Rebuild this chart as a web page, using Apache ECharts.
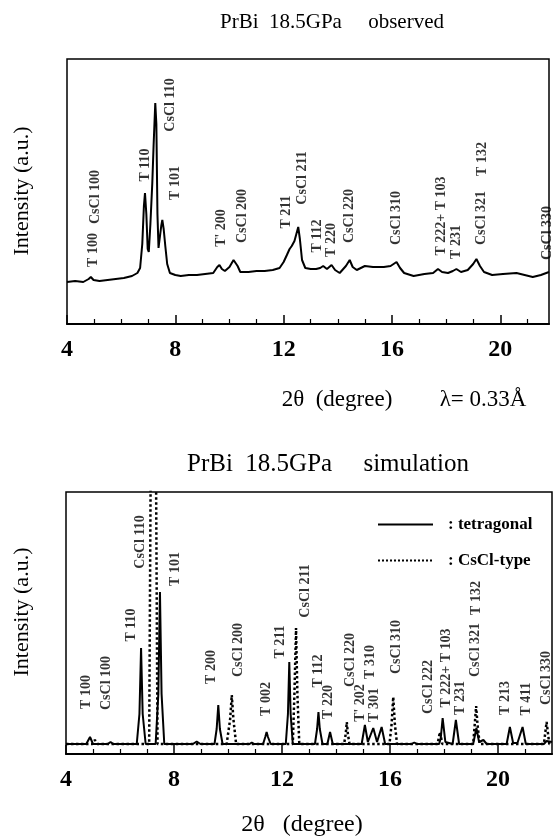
<!DOCTYPE html>
<html>
<head>
<meta charset="utf-8">
<script src="https://cdn.jsdelivr.net/npm/echarts@6/dist/echarts.min.js"></script>
<style>
html, body { margin: 0; padding: 0; background: #fff; }
#chart { width: 554px; height: 840px; }
</style>
</head>
<body>
<div id="chart"></div>
<script>
var dom = document.getElementById("chart");
var myChart = echarts.init(dom);

// tick values of the 2theta axes
var majorTicks = [4, 8, 12, 16, 20];
var minorTicks = [5, 6, 7, 9, 10, 11, 13, 14, 15, 17, 18, 19, 21];

// observed pattern  [2theta, intensity]
var observed = [
  [4.0,42],[4.3,43],[4.6,42],[4.8,45],[4.88,47],[4.98,44],[5.2,43],[5.5,44],[5.8,45],[6.1,46],
  [6.4,48],[6.6,51],[6.7,56],[6.78,80],[6.84,118],[6.88,131],[6.93,110],[6.98,75],[7.02,72],
  [7.08,100],[7.15,141],[7.2,180],[7.26,221],[7.3,200],[7.34,110],[7.38,76],[7.42,75],[7.48,98],
  [7.52,104],[7.57,95],[7.63,78],[7.7,60],[7.8,51],[8.0,49],[8.2,48],[8.5,49],[8.8,49],[9.1,50],
  [9.4,51],[9.55,57],[9.63,59],[9.72,55],[9.83,53],[10.0,57],[10.15,64],[10.22,66],[10.3,58],
  [10.4,52],[10.7,52],[11.0,53],[11.3,53],[11.6,54],[11.85,56],[12.0,62],[12.12,69],[12.22,75],
  [12.3,78],[12.4,83],[12.47,90],[12.54,97],[12.6,85],[12.68,64],[12.8,56],[13.0,55],[13.2,55],
  [13.35,56],[13.46,58],[13.6,55],[13.77,59],[13.9,54],[14.07,51],[14.3,58],[14.44,64],[14.55,57],
  [14.7,54],[15.0,58],[15.3,57],[15.7,57],[15.95,58],[16.17,62],[16.3,56],[16.45,51],[16.8,48],
  [17.2,50],[17.52,51],[17.7,55],[17.85,52],[18.07,51],[18.25,53],[18.38,55],[18.55,52],[18.8,54],
  [19.0,60],[19.12,65],[19.25,58],[19.4,52],[19.7,49],[20.1,50],[20.6,51],[20.9,49],[21.2,47],
  [21.5,49],[21.7,51],[21.8,52]
];

// simulated tetragonal pattern
var tetragonal = [
  [4,10],[4.75,10],[4.89,17],[5.0,10],[5.55,10],[5.65,12],[5.75,10],
  [6.62,10],[6.72,40],[6.78,106],[6.84,40],[6.95,10],
  [7.32,10],[7.42,60],[7.48,162],[7.54,60],[7.64,10],
  [8.7,10],[8.84,12.5],[8.98,10],
  [9.5,10],[9.58,25],[9.64,49],[9.7,25],[9.8,10],
  [10.8,10],[10.88,11.5],[10.96,10],
  [11.3,10],[11.38,17],[11.43,22],[11.48,17],[11.58,10],
  [12.14,10],[12.22,40],[12.27,92],[12.32,40],[12.4,10],
  [13.22,10],[13.3,25],[13.35,42],[13.4,25],[13.5,10],
  [13.68,10],[13.78,22],[13.88,10],
  [14.95,10],[15.07,29],[15.18,12],[15.38,26],[15.52,12],[15.69,27],[15.82,10],
  [16.8,10],[16.9,11.5],[17.0,10],
  [17.82,10],[17.88,16],[17.95,36],[18.05,12],[18.32,10],[18.44,34],[18.56,10],
  [19.08,10],[19.2,26],[19.3,12],[19.46,14],[19.58,10],
  [20.32,10],[20.44,27],[20.56,11],[20.63,13],[20.72,11],[20.91,27],[21.03,10],
  [21.7,10],[21.8,13],[22,12]
];

// simulated CsCl-type pattern
var cscl = [
  [4,10],[4.98,10],[5.07,14],[5.16,10],
  [7.08,10],[7.16,400],[7.31,400],[7.39,10],
  [9.95,10],[10.08,35],[10.14,59],[10.2,35],[10.3,10],
  [12.4,10],[12.46,60],[12.52,126],[12.57,60],[12.64,10],
  [14.3,10],[14.36,20],[14.4,32],[14.44,20],[14.5,10],
  [15.98,10],[16.06,30],[16.12,57],[16.18,30],[16.26,10],
  [17.76,10],[17.85,22],[17.94,10],
  [19.08,10],[19.14,30],[19.19,48],[19.24,30],[19.32,10],
  [21.7,10],[21.8,32],[21.9,10],[22,10]
];

// peak labels  [2theta, intensity, text]
var obsLabels = [
  [4.96,74,"T 100"],[5.03,127,"CsCl 100"],[6.88,159,"T 110"],[7.80,219,"CsCl 110"],
  [7.99,141,"T 101"],[9.72,96,"T' 200"],[10.46,108,"CsCl 200"],[12.12,112,"T 211"],
  [12.71,146,"CsCl 211"],[13.26,88,"T 112"],[13.78,84,"T 220"],[14.44,108,"CsCl 220"],
  [16.18,106,"CsCl 310"],[17.84,108,"T 222+ T 103"],[18.39,82,"T 231"],[19.31,106,"CsCl 321"],
  [19.35,165,"T 132"],[21.75,91,"CsCl 330"]
];
var simLabels = [
  [4.76,62,"T 100"],[5.5,71,"CsCl 100"],[6.43,129,"T 110"],[6.74,212,"CsCl 110"],
  [8.04,185,"T 101"],[9.4,87,"T 200"],[10.38,104,"CsCl 200"],[11.43,55,"T 002"],
  [11.93,112,"T 211"],[12.85,163,"CsCl 211"],[13.35,83,"T 112"],[13.72,52,"T 220"],
  [14.52,94,"CsCl 220"],[14.89,51,"T' 202"],[15.26,92,"T 310"],[15.44,49,"T 301"],
  [16.25,107,"CsCl 310"],[17.42,67,"CsCl 222"],[18.1,86,"T 222+ T 103"],[18.59,56,"T 231"],
  [19.15,104,"CsCl 321"],[19.21,156,"T 132"],[20.26,56,"T 213"],[21.06,55,"T 411"],
  [21.8,76,"CsCl 330"]
];

var serif = "'Liberation Serif', 'DejaVu Serif', serif";

function mainX(grid, max) {
  return {
    type: 'value', gridIndex: grid, min: 4, max: max, position: 'bottom',
    axisLine: { show: true, lineStyle: { color: '#000', width: 2 } },
    axisTick: { show: true, inside: true, length: 9, customValues: majorTicks,
      lineStyle: { color: '#000', width: 1.5 } },
    axisLabel: { show: true, customValues: majorTicks, margin: 14,
      color: '#000', fontFamily: serif, fontWeight: 'bold', fontSize: 24 },
    splitLine: { show: false }
  };
}
function minorX(grid, max) {
  return {
    type: 'value', gridIndex: grid, min: 4, max: max, position: 'bottom',
    axisLine: { show: false, onZero: false },
    axisTick: { show: true, inside: true, length: 5, customValues: minorTicks,
      lineStyle: { color: '#000', width: 1.2 } },
    axisLabel: { show: false },
    splitLine: { show: false }
  };
}
function yAx(grid, max) {
  return {
    type: 'value', gridIndex: grid, min: 0, max: max,
    axisLine: { show: false }, axisTick: { show: false },
    axisLabel: { show: false }, splitLine: { show: false }
  };
}
function labelSeries(data, xi, yi) {
  return {
    type: 'scatter', xAxisIndex: xi, yAxisIndex: yi, data: data,
    symbolSize: 0, silent: true,
    label: { show: true, position: 'inside', rotate: 90,
      formatter: function (p) { return p.data[2]; },
      color: '#000', fontFamily: serif, fontWeight: 'bold', fontSize: 14 }
  };
}
function txt(x, y, s, size, rot) {
  return { type: 'text', x: x, y: y, rotation: rot || 0,
    style: { text: s, fontFamily: serif, fontSize: size, fill: '#000',
      textAlign: 'center', textVerticalAlign: 'middle' } };
}

var option = {
  animation: false,
  backgroundColor: '#fff',
  grid: [
    { left: 67, right: 5, top: 59, height: 265, show: true, borderColor: '#000', borderWidth: 1.5 },
    { left: 66, right: 2, top: 492, height: 262, show: true, borderColor: '#000', borderWidth: 1.5 }
  ],
  legend: {
    orient: 'vertical', left: 372, top: 511, itemWidth: 55, itemHeight: 14, itemGap: 19,
    data: ['tetragonal', 'CsCl-type'],
    formatter: ': {name}',
    itemStyle: { color: 'rgba(0,0,0,0)', borderColor: 'rgba(0,0,0,0)', borderWidth: 0 },
    textStyle: { fontFamily: serif, fontSize: 17, fontWeight: 'bold', color: '#000', padding: [0, 0, 0, 10] }
  },
  xAxis: [mainX(0, 21.8), minorX(0, 21.8), mainX(1, 22), minorX(1, 22)],
  yAxis: [yAx(0, 265), yAx(1, 262)],
  graphic: [
    txt(332, 22, 'PrBi  18.5GPa     observed', 21),
    txt(328, 464, 'PrBi  18.5GPa     simulation', 25),
    txt(22, 191, 'Intensity (a.u.)', 22, Math.PI / 2),
    txt(22, 612, 'Intensity (a.u.)', 22, Math.PI / 2),
    txt(337, 400, '2θ  (degree)', 23),
    txt(483, 400, 'λ= 0.33Å', 23),
    txt(302, 825, '2θ   (degree)', 24)
  ],
  series: [
    { name: 'observed', type: 'line', xAxisIndex: 0, yAxisIndex: 0, data: observed,
      showSymbol: false, symbol: 'none', lineStyle: { color: '#000', width: 2 } },
    { name: 'CsCl-type', type: 'line', xAxisIndex: 2, yAxisIndex: 1, data: cscl,
      showSymbol: false, symbol: 'none', itemStyle: { color: '#000' },
      lineStyle: { color: '#000', width: 2.5, type: 'dotted' } },
    { name: 'tetragonal', type: 'line', xAxisIndex: 2, yAxisIndex: 1, data: tetragonal,
      showSymbol: false, symbol: 'none', itemStyle: { color: '#000' },
      lineStyle: { color: '#000', width: 2 } },
    labelSeries(obsLabels, 0, 0),
    labelSeries(simLabels, 2, 1)
  ]
};
myChart.setOption(option);
</script>
</body>
</html>
